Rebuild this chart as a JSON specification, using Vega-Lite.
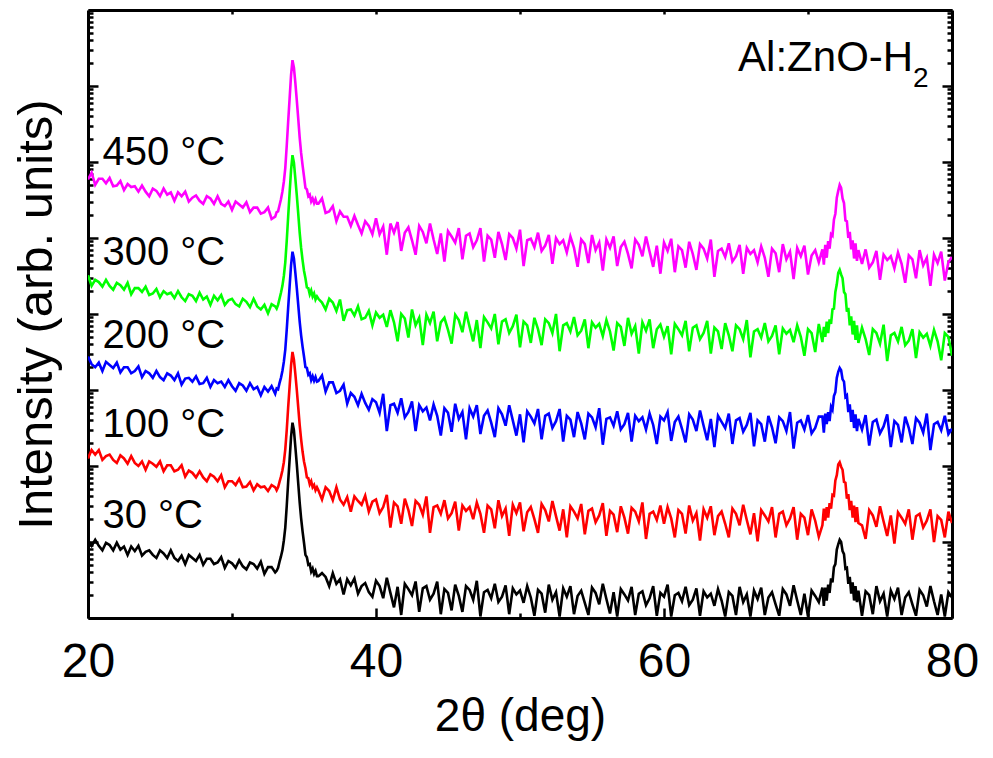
{
"$schema":"https://vega.github.io/schema/vega-lite/v6.json",
"width":864,"height":608,
"autosize":{"type":"none"},
"padding":{"left":88,"top":10,"right":41,"bottom":140},
"background":"white",
"config":{"view":{"stroke":null},"axis":{"grid":false,"domainColor":"black","domainWidth":3,"tickColor":"black","tickWidth":2.5,"labelColor":"black","titleColor":"black","labelFont":"Liberation Sans","titleFont":"Liberation Sans","titleFontWeight":"normal"},"text":{"font":"Liberation Sans","color":"black"}},
"resolve":{"axis":{"x":"independent","y":"independent"}},
"layer":[
{"data":{"values":[
{"x":20,"t30":1.02,"t100":2.10,"t200":3.44,"t300":4.51,"t450":5.77},
{"x":20.25,"t30":0.95,"t100":2.21,"t200":3.34,"t300":4.37,"t450":5.86},
{"x":20.5,"t30":1.03,"t100":2.15,"t200":3.30,"t300":4.45,"t450":5.70},
{"x":20.75,"t30":0.95,"t100":2.21,"t200":3.36,"t300":4.42,"t450":5.78},
{"x":21,"t30":0.89,"t100":2.08,"t200":3.25,"t300":4.36,"t450":5.78},
{"x":21.25,"t30":0.99,"t100":2.13,"t200":3.37,"t300":4.45,"t450":5.72},
{"x":21.5,"t30":0.96,"t100":2.15,"t200":3.33,"t300":4.37,"t450":5.79},
{"x":21.75,"t30":0.89,"t100":2.08,"t200":3.29,"t300":4.32,"t450":5.68},
{"x":22,"t30":0.99,"t100":2.04,"t200":3.36,"t300":4.41,"t450":5.69},
{"x":22.25,"t30":0.90,"t100":2.14,"t200":3.23,"t300":4.38,"t450":5.75},
{"x":22.5,"t30":0.94,"t100":2.10,"t200":3.30,"t300":4.32,"t450":5.63},
{"x":22.75,"t30":0.83,"t100":2.03,"t200":3.30,"t300":4.41,"t450":5.71},
{"x":23,"t30":0.94,"t100":2.13,"t200":3.22,"t300":4.26,"t450":5.67},
{"x":23.25,"t30":0.88,"t100":2.04,"t200":3.25,"t300":4.34,"t450":5.68},
{"x":23.5,"t30":0.95,"t100":2.00,"t200":3.31,"t300":4.34,"t450":5.61},
{"x":23.75,"t30":0.82,"t100":2.06,"t200":3.17,"t300":4.29,"t450":5.69},
{"x":24,"t30":0.87,"t100":1.95,"t200":3.25,"t300":4.36,"t450":5.61},
{"x":24.25,"t30":0.89,"t100":2.06,"t200":3.22,"t300":4.25,"t450":5.55},
{"x":24.5,"t30":0.83,"t100":2.03,"t200":3.16,"t300":4.27,"t450":5.65},
{"x":24.75,"t30":0.79,"t100":1.99,"t200":3.25,"t300":4.33,"t450":5.62},
{"x":25,"t30":0.89,"t100":2.06,"t200":3.17,"t300":4.22,"t450":5.55},
{"x":25.25,"t30":0.85,"t100":1.93,"t200":3.13,"t300":4.30,"t450":5.65},
{"x":25.5,"t30":0.79,"t100":2.01,"t200":3.22,"t300":4.26,"t450":5.57},
{"x":25.75,"t30":0.89,"t100":2.01,"t200":3.19,"t300":4.28,"t450":5.60},
{"x":26,"t30":0.79,"t100":1.93,"t200":3.13,"t300":4.21,"t450":5.49},
{"x":26.25,"t30":0.75,"t100":1.95,"t200":3.22,"t300":4.30,"t450":5.60},
{"x":26.5,"t30":0.82,"t100":2.01,"t200":3.07,"t300":4.22,"t450":5.55},
{"x":26.75,"t30":0.71,"t100":1.86,"t200":3.15,"t300":4.17,"t450":5.61},
{"x":27,"t30":0.83,"t100":1.94,"t200":3.16,"t300":4.26,"t450":5.48},
{"x":27.25,"t30":0.79,"t100":1.91,"t200":3.11,"t300":4.24,"t450":5.53},
{"x":27.5,"t30":0.75,"t100":1.85,"t200":3.18,"t300":4.17,"t450":5.56},
{"x":27.75,"t30":0.83,"t100":1.93,"t200":3.08,"t300":4.28,"t450":5.49},
{"x":28,"t30":0.70,"t100":1.85,"t200":3.09,"t300":4.19,"t450":5.45},
{"x":28.25,"t30":0.78,"t100":1.80,"t200":3.16,"t300":4.23,"t450":5.55},
{"x":28.5,"t30":0.78,"t100":1.89,"t200":3.04,"t300":4.12,"t450":5.52},
{"x":28.75,"t30":0.71,"t100":1.86,"t200":3.13,"t300":4.24,"t450":5.45},
{"x":29,"t30":0.73,"t100":1.80,"t200":3.09,"t300":4.18,"t450":5.55},
{"x":29.25,"t30":0.80,"t100":1.88,"t200":3.11,"t300":4.25,"t450":5.45},
{"x":29.5,"t30":0.66,"t100":1.72,"t200":3.04,"t300":4.12,"t450":5.42},
{"x":29.75,"t30":0.75,"t100":1.80,"t200":3.13,"t300":4.18,"t450":5.48},
{"x":30,"t30":0.72,"t100":1.80,"t200":3.05,"t300":4.20,"t450":5.37},
{"x":30.25,"t30":0.66,"t100":1.75,"t200":2.99,"t300":4.13,"t450":5.48},
{"x":30.5,"t30":0.76,"t100":1.83,"t200":3.09,"t300":4.10,"t450":5.44},
{"x":30.75,"t30":0.68,"t100":1.72,"t200":3.06,"t300":4.20,"t450":5.40},
{"x":31,"t30":0.64,"t100":1.73,"t200":2.99,"t300":4.16,"t450":5.47},
{"x":31.25,"t30":0.73,"t100":1.79,"t200":3.09,"t300":4.09,"t450":5.34},
{"x":31.5,"t30":0.71,"t100":1.68,"t200":3.01,"t300":4.20,"t450":5.40},
{"x":31.75,"t30":0.65,"t100":1.76,"t200":3.04,"t300":4.10,"t450":5.40},
{"x":32,"t30":0.74,"t100":1.72,"t200":2.93,"t300":4.06,"t450":5.32},
{"x":32.25,"t30":0.58,"t100":1.73,"t200":3.04,"t300":4.12,"t450":5.34},
{"x":32.5,"t30":0.67,"t100":1.67,"t200":2.98,"t300":4.01,"t450":5.40},
{"x":32.75,"t30":0.67,"t100":1.75,"t200":3.05,"t300":4.13,"t450":5.25},
{"x":33.0,"t30":0.60,"t100":1.72,"t200":2.95,"t300":4.10,"t450":5.28},
{"x":33.1,"t30":0.62,"t100":1.68,"t200":3.02,"t300":4.07,"t450":5.34},
{"x":33.2,"t30":0.66,"t100":1.72,"t200":3.01,"t300":4.12,"t450":5.35},
{"x":33.3,"t30":0.74,"t100":1.79,"t200":3.09,"t300":4.20,"t450":5.43},
{"x":33.4,"t30":0.81,"t100":1.86,"t200":3.16,"t300":4.28,"t450":5.51},
{"x":33.5,"t30":0.89,"t100":1.94,"t200":3.25,"t300":4.37,"t450":5.61},
{"x":33.6,"t30":1.02,"t100":2.05,"t200":3.37,"t300":4.50,"t450":5.74},
{"x":33.7,"t30":1.19,"t100":2.22,"t200":3.53,"t300":4.68,"t450":5.92},
{"x":33.8,"t30":1.47,"t100":2.47,"t200":3.79,"t300":4.96,"t450":6.21},
{"x":33.9,"t30":1.79,"t100":2.77,"t200":4.08,"t300":5.28,"t450":6.53},
{"x":34.0,"t30":2.08,"t100":3.04,"t200":4.36,"t300":5.59,"t450":6.83},
{"x":34.1,"t30":2.38,"t100":3.32,"t200":4.64,"t300":5.89,"t450":7.14},
{"x":34.2,"t30":2.57,"t100":3.50,"t200":4.82,"t300":6.09,"t450":7.34},
{"x":34.3,"t30":2.47,"t100":3.40,"t200":4.73,"t300":5.99,"t450":7.24},
{"x":34.4,"t30":2.25,"t100":3.21,"t200":4.54,"t300":5.78,"t450":7.04},
{"x":34.5,"t30":2.02,"t100":3.00,"t200":4.34,"t300":5.56,"t450":6.81},
{"x":34.6,"t30":1.77,"t100":2.77,"t200":4.12,"t300":5.32,"t450":6.57},
{"x":34.7,"t30":1.52,"t100":2.54,"t200":3.90,"t300":5.07,"t450":6.32},
{"x":34.8,"t30":1.31,"t100":2.35,"t200":3.72,"t300":4.87,"t450":6.12},
{"x":34.9,"t30":1.14,"t100":2.19,"t200":3.57,"t300":4.71,"t450":5.96},
{"x":35.0,"t30":0.99,"t100":2.06,"t200":3.44,"t300":4.57,"t450":5.81},
{"x":35.1,"t30":0.83,"t100":1.97,"t200":3.30,"t300":4.47,"t450":5.66},
{"x":35.2,"t30":0.80,"t100":1.85,"t200":3.29,"t300":4.35,"t450":5.64},
{"x":35.3,"t30":0.70,"t100":1.84,"t200":3.20,"t300":4.34,"t450":5.55},
{"x":35.4,"t30":0.71,"t100":1.76,"t200":3.22,"t300":4.26,"t450":5.57},
{"x":35.5,"t30":0.61,"t100":1.80,"t200":3.13,"t300":4.31,"t450":5.48},
{"x":35.6,"t30":0.65,"t100":1.72,"t200":3.18,"t300":4.23,"t450":5.52},
{"x":35.7,"t30":0.58,"t100":1.75,"t200":3.12,"t300":4.27,"t450":5.46},
{"x":35.8,"t30":0.62,"t100":1.68,"t200":3.17,"t300":4.19,"t450":5.51},
{"x":35.9,"t30":0.55,"t100":1.72,"t200":3.11,"t300":4.23,"t450":5.45},
{"x":36.0,"t30":0.55,"t100":1.68,"t200":3.12,"t300":4.20,"t450":5.45},
{"x":36.25,"t30":0.59,"t100":1.56,"t200":3.19,"t300":4.15,"t450":5.52},
{"x":36.5,"t30":0.54,"t100":1.72,"t200":2.98,"t300":4.06,"t450":5.33},
{"x":36.75,"t30":0.42,"t100":1.67,"t200":3.10,"t300":4.20,"t450":5.35},
{"x":37,"t30":0.59,"t100":1.55,"t200":3.10,"t300":4.15,"t450":5.42},
{"x":37.25,"t30":0.45,"t100":1.72,"t200":2.96,"t300":4.04,"t450":5.22},
{"x":37.5,"t30":0.51,"t100":1.56,"t200":2.99,"t300":4.19,"t450":5.35},
{"x":37.75,"t30":0.31,"t100":1.49,"t200":3.07,"t300":3.91,"t450":5.28},
{"x":38,"t30":0.51,"t100":1.59,"t200":2.82,"t300":4.05,"t450":5.28},
{"x":38.25,"t30":0.43,"t100":1.40,"t200":2.96,"t300":4.06,"t450":5.16},
{"x":38.5,"t30":0.52,"t100":1.60,"t200":2.91,"t300":3.98,"t450":5.29},
{"x":38.75,"t30":0.32,"t100":1.54,"t200":2.80,"t300":4.10,"t450":5.17},
{"x":39,"t30":0.42,"t100":1.49,"t200":2.95,"t300":3.93,"t450":5.06},
{"x":39.25,"t30":0.46,"t100":1.61,"t200":2.83,"t300":3.95,"t450":5.22},
{"x":39.5,"t30":0.34,"t100":1.40,"t200":2.74,"t300":4.04,"t450":5.16},
{"x":39.75,"t30":0.28,"t100":1.53,"t200":2.88,"t300":3.85,"t450":5.05},
{"x":40,"t30":0.49,"t100":1.56,"t200":2.84,"t300":4.02,"t450":5.26},
{"x":40.25,"t30":0.42,"t100":1.38,"t200":2.70,"t300":3.95,"t450":5.05},
{"x":40.5,"t30":0.26,"t100":1.46,"t200":2.95,"t300":3.99,"t450":5.15},
{"x":40.75,"t30":0.53,"t100":1.62,"t200":2.46,"t300":3.83,"t450":4.78},
{"x":41,"t30":0.33,"t100":1.19,"t200":2.80,"t300":4.05,"t450":5.19},
{"x":41.25,"t30":0.14,"t100":1.52,"t200":2.82,"t300":3.89,"t450":5.07},
{"x":41.5,"t30":0.41,"t100":1.47,"t200":2.70,"t300":3.64,"t450":5.21},
{"x":41.75,"t30":0.04,"t100":1.24,"t200":2.89,"t300":4.00,"t450":4.83},
{"x":42,"t30":0.45,"t100":1.57,"t200":2.64,"t300":3.94,"t450":5.07},
{"x":42.25,"t30":0.38,"t100":1.42,"t200":2.71,"t300":3.69,"t450":5.14},
{"x":42.5,"t30":0.30,"t100":1.21,"t200":2.85,"t300":4.06,"t450":4.97},
{"x":42.75,"t30":0.48,"t100":1.54,"t200":2.46,"t300":3.85,"t450":4.78},
{"x":43,"t30":0.08,"t100":1.49,"t200":2.80,"t300":3.95,"t450":5.16},
{"x":43.25,"t30":0.39,"t100":1.36,"t200":2.72,"t300":3.59,"t450":5.08},
{"x":43.5,"t30":0.42,"t100":1.60,"t200":2.77,"t300":3.99,"t450":4.93},
{"x":43.75,"t30":0.24,"t100":1.12,"t200":2.60,"t300":3.88,"t450":5.19},
{"x":44,"t30":0.32,"t100":1.46,"t200":2.81,"t300":4.03,"t450":4.98},
{"x":44.25,"t30":0.48,"t100":1.48,"t200":2.66,"t300":3.64,"t450":4.79},
{"x":44.5,"t30":0.05,"t100":1.37,"t200":2.40,"t300":3.89,"t450":5.06},
{"x":44.75,"t30":0.38,"t100":1.55,"t200":2.76,"t300":3.95,"t450":4.69},
{"x":45,"t30":0.33,"t100":1.31,"t200":2.70,"t300":3.79,"t450":5.09},
{"x":45.25,"t30":0.10,"t100":1.38,"t200":2.45,"t300":3.61,"t450":5.02},
{"x":45.5,"t30":0.44,"t100":1.53,"t200":2.82,"t300":3.99,"t450":4.94},
{"x":45.75,"t30":0.29,"t100":1.15,"t200":2.62,"t300":3.92,"t450":5.13},
{"x":46,"t30":0.08,"t100":1.48,"t200":2.71,"t300":3.76,"t450":4.72},
{"x":46.25,"t30":0.42,"t100":1.41,"t200":2.35,"t300":4.03,"t450":5.03},
{"x":46.5,"t30":0.37,"t100":1.46,"t200":2.76,"t300":3.83,"t450":5.06},
{"x":46.75,"t30":0.24,"t100":1.30,"t200":2.65,"t300":3.64,"t450":4.88},
{"x":47,"t30":0.49,"t100":1.52,"t200":2.80,"t300":3.92,"t450":4.97},
{"x":47.25,"t30":0.02,"t100":1.37,"t200":2.42,"t300":3.55,"t450":5.13},
{"x":47.5,"t30":0.34,"t100":1.12,"t200":2.66,"t300":3.96,"t450":4.69},
{"x":47.75,"t30":0.37,"t100":1.48,"t200":2.73,"t300":3.89,"t450":5.03},
{"x":48,"t30":0.26,"t100":1.43,"t200":2.57,"t300":3.81,"t450":4.98},
{"x":48.25,"t30":0.45,"t100":1.18,"t200":2.38,"t300":4.00,"t450":4.74},
{"x":48.5,"t30":0.21,"t100":1.55,"t200":2.76,"t300":3.60,"t450":5.08},
{"x":48.75,"t30":0.28,"t100":1.34,"t200":2.68,"t300":3.90,"t450":4.92},
{"x":49,"t30":0.43,"t100":1.44,"t200":2.53,"t300":3.93,"t450":4.71},
{"x":49.25,"t30":0.05,"t100":1.08,"t200":2.80,"t300":3.75,"t450":5.05},
{"x":49.5,"t30":0.39,"t100":1.49,"t200":2.60,"t300":3.84,"t450":5.00},
{"x":49.75,"t30":0.31,"t100":1.38,"t200":2.40,"t300":3.99,"t450":4.86},
{"x":50,"t30":0.36,"t100":1.52,"t200":2.68,"t300":3.56,"t450":5.11},
{"x":50.25,"t30":0.20,"t100":1.14,"t200":2.31,"t300":3.90,"t450":4.63},
{"x":50.5,"t30":0.42,"t100":1.39,"t200":2.72,"t300":3.85,"t450":4.97},
{"x":50.75,"t30":0.27,"t100":1.46,"t200":2.65,"t300":3.62,"t450":4.99},
{"x":51,"t30":0.03,"t100":1.30,"t200":2.56,"t300":3.95,"t450":4.88},
{"x":51.25,"t30":0.37,"t100":1.12,"t200":2.75,"t300":3.80,"t450":5.07},
{"x":51.5,"t30":0.32,"t100":1.50,"t200":2.35,"t300":3.59,"t450":4.83},
{"x":51.75,"t30":0.07,"t100":1.42,"t200":2.66,"t300":3.93,"t450":4.90},
{"x":52,"t30":0.44,"t100":1.27,"t200":2.69,"t300":3.88,"t450":5.04},
{"x":52.25,"t30":0.24,"t100":1.54,"t200":2.50,"t300":3.75,"t450":4.66},
{"x":52.5,"t30":0.34,"t100":1.34,"t200":2.59,"t300":4.00,"t450":5.00},
{"x":52.75,"t30":0.02,"t100":1.15,"t200":2.75,"t300":3.51,"t450":4.92},
{"x":53,"t30":0.39,"t100":1.43,"t200":2.32,"t300":3.85,"t450":4.97},
{"x":53.25,"t30":0.28,"t100":1.06,"t200":2.66,"t300":3.88,"t450":4.81},
{"x":53.5,"t30":0.42,"t100":1.47,"t200":2.61,"t300":3.77,"t450":5.02},
{"x":53.75,"t30":0.05,"t100":1.40,"t200":2.38,"t300":3.96,"t450":4.87},
{"x":54,"t30":0.29,"t100":1.31,"t200":2.71,"t300":3.72,"t450":4.62},
{"x":54.25,"t30":0.36,"t100":1.50,"t200":2.56,"t300":3.78,"t450":4.98},
{"x":54.5,"t30":0.20,"t100":1.10,"t200":2.35,"t300":3.93,"t450":4.92},
{"x":54.75,"t30":0.04,"t100":1.41,"t200":2.69,"t300":3.55,"t450":4.67},
{"x":55,"t30":0.40,"t100":1.44,"t200":2.64,"t300":3.89,"t450":5.04},
{"x":55.25,"t30":0.33,"t100":1.26,"t200":2.51,"t300":3.82,"t450":4.84},
{"x":55.5,"t30":0.18,"t100":1.35,"t200":2.76,"t300":3.87,"t450":4.94},
{"x":55.75,"t30":0.45,"t100":1.51,"t200":2.28,"t300":3.71,"t450":4.57},
{"x":56,"t30":0.25,"t100":1.08,"t200":2.62,"t300":3.92,"t450":4.98},
{"x":56.25,"t30":0.06,"t100":1.41,"t200":2.64,"t300":3.77,"t450":4.87},
{"x":56.5,"t30":0.34,"t100":1.36,"t200":2.53,"t300":3.52,"t450":5.02},
{"x":56.75,"t30":0.02,"t100":1.13,"t200":2.72,"t300":3.88,"t450":4.63},
{"x":57,"t30":0.38,"t100":1.47,"t200":2.48,"t300":3.83,"t450":4.88},
{"x":57.25,"t30":0.31,"t100":1.32,"t200":2.55,"t300":3.58,"t450":4.95},
{"x":57.5,"t30":0.23,"t100":1.11,"t200":2.70,"t300":3.95,"t450":4.79},
{"x":57.75,"t30":0.41,"t100":1.45,"t200":2.32,"t300":3.74,"t450":4.60},
{"x":58,"t30":0.04,"t100":1.40,"t200":2.66,"t300":3.84,"t450":4.98},
{"x":58.25,"t30":0.32,"t100":1.27,"t200":2.59,"t300":3.48,"t450":4.91},
{"x":58.5,"t30":0.35,"t100":1.52,"t200":2.64,"t300":3.89,"t450":4.76},
{"x":58.75,"t30":0.17,"t100":1.04,"t200":2.48,"t300":3.78,"t450":5.02},
{"x":59,"t30":0.26,"t100":1.37,"t200":2.69,"t300":3.93,"t450":4.82},
{"x":59.25,"t30":0.42,"t100":1.40,"t200":2.54,"t300":3.55,"t450":4.62},
{"x":59.5,"t30":0.03,"t100":1.29,"t200":2.29,"t300":3.80,"t450":4.90},
{"x":59.75,"t30":0.33,"t100":1.48,"t200":2.65,"t300":3.86,"t450":4.53},
{"x":60,"t30":0.28,"t100":1.24,"t200":2.60,"t300":3.70,"t450":4.94},
{"x":60.25,"t30":0.44,"t100":1.46,"t200":2.71,"t300":3.84,"t450":4.83},
{"x":60.5,"t30":0.02,"t100":1.31,"t200":2.33,"t300":3.47,"t450":4.99},
{"x":60.75,"t30":0.30,"t100":1.06,"t200":2.58,"t300":3.87,"t450":4.55},
{"x":61,"t30":0.33,"t100":1.42,"t200":2.65,"t300":3.80,"t450":4.89},
{"x":61.25,"t30":0.22,"t100":1.37,"t200":2.49,"t300":3.72,"t450":4.84},
{"x":61.5,"t30":0.41,"t100":1.11,"t200":2.31,"t300":3.91,"t450":4.61},
{"x":61.75,"t30":0.17,"t100":1.48,"t200":2.68,"t300":3.51,"t450":4.95},
{"x":62,"t30":0.24,"t100":1.28,"t200":2.61,"t300":3.82,"t450":4.79},
{"x":62.25,"t30":0.39,"t100":1.38,"t200":2.46,"t300":3.85,"t450":4.58},
{"x":62.5,"t30":0.03,"t100":1.02,"t200":2.73,"t300":3.67,"t450":4.92},
{"x":62.75,"t30":0.35,"t100":1.43,"t200":2.53,"t300":3.75,"t450":4.86},
{"x":63,"t30":0.27,"t100":1.32,"t200":2.34,"t300":3.91,"t450":4.73},
{"x":63.25,"t30":0.32,"t100":1.47,"t200":2.62,"t300":3.48,"t450":4.98},
{"x":63.5,"t30":0.16,"t100":1.09,"t200":2.25,"t300":3.82,"t450":4.49},
{"x":63.75,"t30":0.38,"t100":1.34,"t200":2.66,"t300":3.77,"t450":4.83},
{"x":64,"t30":0.23,"t100":1.40,"t200":2.58,"t300":3.54,"t450":4.86},
{"x":64.25,"t30":0.02,"t100":1.24,"t200":2.50,"t300":3.88,"t450":4.75},
{"x":64.5,"t30":0.34,"t100":1.06,"t200":2.69,"t300":3.72,"t450":4.93},
{"x":64.75,"t30":0.29,"t100":1.44,"t200":2.29,"t300":3.51,"t450":4.69},
{"x":65,"t30":0.04,"t100":1.37,"t200":2.60,"t300":3.85,"t450":4.76},
{"x":65.25,"t30":0.41,"t100":1.22,"t200":2.63,"t300":3.80,"t450":4.91},
{"x":65.5,"t30":0.21,"t100":1.49,"t200":2.45,"t300":3.67,"t450":4.53},
{"x":65.75,"t30":0.31,"t100":1.29,"t200":2.54,"t300":3.92,"t450":4.87},
{"x":66,"t30":0.02,"t100":1.10,"t200":2.70,"t300":3.43,"t450":4.79},
{"x":66.25,"t30":0.36,"t100":1.38,"t200":2.26,"t300":3.77,"t450":4.84},
{"x":66.5,"t30":0.25,"t100":1.01,"t200":2.60,"t300":3.80,"t450":4.68},
{"x":66.75,"t30":0.40,"t100":1.42,"t200":2.55,"t300":3.69,"t450":4.89},
{"x":67,"t30":0.04,"t100":1.35,"t200":2.32,"t300":3.88,"t450":4.74},
{"x":67.25,"t30":0.27,"t100":1.27,"t200":2.66,"t300":3.64,"t450":4.49},
{"x":67.5,"t30":0.34,"t100":1.46,"t200":2.51,"t300":3.71,"t450":4.86},
{"x":67.75,"t30":0.18,"t100":1.06,"t200":2.30,"t300":3.85,"t450":4.80},
{"x":68,"t30":0.03,"t100":1.37,"t200":2.64,"t300":3.47,"t450":4.55},
{"x":68.25,"t30":0.38,"t100":1.40,"t200":2.59,"t300":3.81,"t450":4.92},
{"x":68.5,"t30":0.31,"t100":1.22,"t200":2.46,"t300":3.74,"t450":4.72},
{"x":68.75,"t30":0.16,"t100":1.31,"t200":2.71,"t300":3.79,"t450":4.82},
{"x":69,"t30":0.43,"t100":1.46,"t200":2.23,"t300":3.63,"t450":4.46},
{"x":69.25,"t30":0.23,"t100":1.03,"t200":2.57,"t300":3.85,"t450":4.87},
{"x":69.5,"t30":0.04,"t100":1.37,"t200":2.60,"t300":3.70,"t450":4.76},
{"x":69.75,"t30":0.32,"t100":1.32,"t200":2.48,"t300":3.45,"t450":4.90},
{"x":70,"t30":0.02,"t100":1.09,"t200":2.67,"t300":3.80,"t450":4.52},
{"x":70.25,"t30":0.36,"t100":1.43,"t200":2.43,"t300":3.75,"t450":4.77},
{"x":70.5,"t30":0.29,"t100":1.28,"t200":2.50,"t300":3.50,"t450":4.84},
{"x":70.75,"t30":0.21,"t100":1.07,"t200":2.65,"t300":3.87,"t450":4.68},
{"x":71.0,"t30":0.40,"t100":1.22,"t200":2.65,"t300":3.63,"t450":4.85},
{"x":71.1,"t30":0.16,"t100":1.44,"t200":2.44,"t300":3.83,"t450":4.65},
{"x":71.2,"t30":0.40,"t100":1.28,"t200":2.69,"t300":3.70,"t450":4.91},
{"x":71.3,"t30":0.23,"t100":1.46,"t200":2.55,"t300":3.90,"t450":4.74},
{"x":71.4,"t30":0.44,"t100":1.32,"t200":2.71,"t300":3.75,"t450":4.96},
{"x":71.5,"t30":0.33,"t100":1.51,"t200":2.59,"t300":3.93,"t450":4.86},
{"x":71.6,"t30":0.52,"t100":1.44,"t200":2.78,"t300":3.87,"t450":5.05},
{"x":71.7,"t30":0.47,"t100":1.62,"t200":2.74,"t300":4.06,"t450":5.03},
{"x":71.8,"t30":0.67,"t100":1.61,"t200":2.92,"t300":4.07,"t450":5.24},
{"x":71.9,"t30":0.71,"t100":1.81,"t200":2.97,"t300":4.29,"t450":5.32},
{"x":72.0,"t30":0.90,"t100":1.88,"t200":3.16,"t300":4.39,"t450":5.53},
{"x":72.1,"t30":0.97,"t100":2.02,"t200":3.24,"t300":4.54,"t450":5.62},
{"x":72.2,"t30":1.03,"t100":2.05,"t200":3.29,"t300":4.58,"t450":5.70},
{"x":72.3,"t30":1.00,"t100":1.99,"t200":3.26,"t300":4.52,"t450":5.66},
{"x":72.4,"t30":0.88,"t100":1.95,"t200":3.14,"t300":4.47,"t450":5.52},
{"x":72.5,"t30":0.84,"t100":1.79,"t200":3.11,"t300":4.29,"t450":5.46},
{"x":72.6,"t30":0.65,"t100":1.78,"t200":2.91,"t300":4.26,"t450":5.23},
{"x":72.7,"t30":0.66,"t100":1.57,"t200":2.93,"t300":4.03,"t450":5.22},
{"x":72.8,"t30":0.45,"t100":1.63,"t200":2.71,"t300":4.08,"t450":5.00},
{"x":72.9,"t30":0.54,"t100":1.42,"t200":2.81,"t300":3.85,"t450":5.08},
{"x":73.0,"t30":0.32,"t100":1.54,"t200":2.58,"t300":3.97,"t450":4.85},
{"x":73.1,"t30":0.47,"t100":1.32,"t200":2.74,"t300":3.73,"t450":4.97},
{"x":73.2,"t30":0.23,"t100":1.48,"t200":2.50,"t300":3.91,"t450":4.73},
{"x":73.3,"t30":0.42,"t100":1.26,"t200":2.68,"t300":3.66,"t450":4.93},
{"x":73.4,"t30":0.21,"t100":1.46,"t200":2.46,"t300":3.85,"t450":4.70},
{"x":73.5,"t30":0.36,"t100":1.25,"t200":2.62,"t300":3.62,"t450":4.84},
{"x":73.75,"t30":0.03,"t100":1.22,"t200":2.48,"t300":3.82,"t450":4.66},
{"x":74,"t30":0.35,"t100":1.04,"t200":2.67,"t300":3.67,"t450":4.85},
{"x":74.25,"t30":0.30,"t100":1.42,"t200":2.27,"t300":3.46,"t450":4.61},
{"x":74.5,"t30":0.05,"t100":1.35,"t200":2.58,"t300":3.80,"t450":4.68},
{"x":74.75,"t30":0.42,"t100":1.20,"t200":2.61,"t300":3.75,"t450":4.83},
{"x":75,"t30":0.22,"t100":1.47,"t200":2.43,"t300":3.61,"t450":4.45},
{"x":75.25,"t30":0.32,"t100":1.27,"t200":2.52,"t300":3.86,"t450":4.78},
{"x":75.5,"t30":0.02,"t100":1.08,"t200":2.68,"t300":3.38,"t450":4.71},
{"x":75.75,"t30":0.36,"t100":1.35,"t200":2.25,"t300":3.72,"t450":4.76},
{"x":76,"t30":0.25,"t100":0.98,"t200":2.59,"t300":3.75,"t450":4.60},
{"x":76.25,"t30":0.40,"t100":1.39,"t200":2.54,"t300":3.64,"t450":4.81},
{"x":76.5,"t30":0.04,"t100":1.32,"t200":2.31,"t300":3.83,"t450":4.66},
{"x":76.75,"t30":0.27,"t100":1.24,"t200":2.65,"t300":3.59,"t450":4.41},
{"x":77,"t30":0.34,"t100":1.43,"t200":2.50,"t300":3.65,"t450":4.77},
{"x":77.25,"t30":0.18,"t100":1.03,"t200":2.29,"t300":3.80,"t450":4.72},
{"x":77.5,"t30":0.03,"t100":1.34,"t200":2.63,"t300":3.42,"t450":4.47},
{"x":77.75,"t30":0.37,"t100":1.37,"t200":2.57,"t300":3.76,"t450":4.84},
{"x":78,"t30":0.30,"t100":1.19,"t200":2.44,"t300":3.69,"t450":4.64},
{"x":78.25,"t30":0.15,"t100":1.28,"t200":2.69,"t300":3.74,"t450":4.74},
{"x":78.5,"t30":0.42,"t100":1.43,"t200":2.21,"t300":3.58,"t450":4.37},
{"x":78.75,"t30":0.22,"t100":1.00,"t200":2.55,"t300":3.79,"t450":4.78},
{"x":79,"t30":0.04,"t100":1.34,"t200":2.58,"t300":3.64,"t450":4.67},
{"x":79.25,"t30":0.31,"t100":1.29,"t200":2.47,"t300":3.39,"t450":4.82},
{"x":79.5,"t30":0.02,"t100":1.06,"t200":2.66,"t300":3.75,"t450":4.44},
{"x":79.75,"t30":0.34,"t100":1.40,"t200":2.42,"t300":3.70,"t450":4.68},
{"x":80,"t30":0.27,"t100":1.25,"t200":2.49,"t300":3.45,"t450":4.75}
]},
"transform":[{"fold":["t30","t100","t200","t300","t450"],"as":["series","I"]}],
"mark":{"type":"line","strokeWidth":2.6,"clip":true,"strokeJoin":"miter"},
"encoding":{
"x":{"field":"x","type":"quantitative","scale":{"domain":[20,80],"nice":false,"zero":false},
"axis":{"orient":"bottom","values":[20,40,60,80],"tickSize":-10,"tickWidth":2.5,"domainWidth":3,"labelFontSize":48,"labelPadding":30,"labelFlush":false,"title":"2θ (deg)","titleFontSize":46,"titlePadding":8}},
"y":{"field":"I","type":"quantitative","scale":{"domain":[0,8],"nice":false,"zero":false},
"axis":{"orient":"left","values":[0.301,0.477,0.602,0.699,0.778,0.845,0.903,0.954,1.301,1.477,1.602,1.699,1.778,1.845,1.903,1.954,2.301,2.477,2.602,2.699,2.778,2.845,2.903,2.954,3.301,3.477,3.602,3.699,3.778,3.845,3.903,3.954,4.301,4.477,4.602,4.699,4.778,4.845,4.903,4.954,5.301,5.477,5.602,5.699,5.778,5.845,5.903,5.954,6.301,6.477,6.602,6.699,6.778,6.845,6.903,6.954,7.301,7.477,7.602,7.699,7.778,7.845,7.903,7.954],"tickSize":-5,"tickWidth":2.5,"domainWidth":3,"labels":false,"title":"Intensity (arb. units)","titleFontSize":49,"titlePadding":25}},
"color":{"field":"series","type":"nominal","scale":{"domain":["t30","t100","t200","t300","t450"],"range":["#000000","#ff0000","#0000ff","#00ff00","#ff00ff"]},"legend":null},
"order":{"field":"x","type":"quantitative"}
}},
{"data":{"values":[{"x":20,"y":0}]},
"mark":{"type":"point","opacity":0},
"encoding":{
"x":{"field":"x","type":"quantitative","axis":{"orient":"bottom","values":[30,50,70],"tickSize":-5,"tickWidth":2.5,"labels":false,"domain":false,"title":null}},
"y":{"field":"y","type":"quantitative","axis":{"orient":"left","values":[0,1,2,3,4,5,6,7,8],"tickSize":-10,"tickWidth":2.5,"labels":false,"domain":false,"title":null}}
}},
{"data":{"values":[{"x":20,"y":0}]},
"mark":{"type":"point","opacity":0},
"encoding":{
"x":{"field":"x","type":"quantitative","axis":{"orient":"top","values":[30,40,50,60,70],"tickSize":-4,"tickWidth":2.5,"domainWidth":3,"labels":false,"title":null}},
"y":{"field":"y","type":"quantitative","axis":{"orient":"right","values":[0,1,2,3,4,5,6,7,8],"tickSize":-10,"tickWidth":2.5,"domainWidth":3,"labels":false,"title":null}}
}},
{"data":{"values":[{"x":20,"y":0}]},
"mark":{"type":"point","opacity":0},
"encoding":{
"x":{"field":"x","type":"quantitative","axis":null},
"y":{"field":"y","type":"quantitative","axis":{"orient":"right","values":[0.301,0.477,0.602,0.699,0.778,0.845,0.903,0.954,1.301,1.477,1.602,1.699,1.778,1.845,1.903,1.954,2.301,2.477,2.602,2.699,2.778,2.845,2.903,2.954,3.301,3.477,3.602,3.699,3.778,3.845,3.903,3.954,4.301,4.477,4.602,4.699,4.778,4.845,4.903,4.954,5.301,5.477,5.602,5.699,5.778,5.845,5.903,5.954,6.301,6.477,6.602,6.699,6.778,6.845,6.903,6.954,7.301,7.477,7.602,7.699,7.778,7.845,7.903,7.954],"tickSize":-5,"tickWidth":2.5,"labels":false,"domain":false,"title":null}}
}},
{"data":{"values":[{"x":21,"y":5.96,"label":"450 °C"},{"x":21,"y":4.64,"label":"300 °C"},{"x":21,"y":3.55,"label":"200 °C"},{"x":21,"y":2.38,"label":"100 °C"},{"x":21,"y":1.18,"label":"30 °C"}]},
"mark":{"type":"text","align":"left","baseline":"alphabetic","fontSize":40},
"encoding":{"x":{"field":"x","type":"quantitative","axis":null},"y":{"field":"y","type":"quantitative","axis":null},"text":{"field":"label"}}},
{"data":{"values":[{"x":77.3,"y":7.2,"label":"Al:ZnO-H"}]},
"mark":{"type":"text","align":"right","baseline":"alphabetic","fontSize":42},
"encoding":{"x":{"field":"x","type":"quantitative","axis":null},"y":{"field":"y","type":"quantitative","axis":null},"text":{"field":"label"}}},
{"data":{"values":[{"x":77.3,"y":6.99,"label":"2"}]},
"mark":{"type":"text","align":"left","baseline":"alphabetic","fontSize":28},
"encoding":{"x":{"field":"x","type":"quantitative","axis":null},"y":{"field":"y","type":"quantitative","axis":null},"text":{"field":"label"}}}
]
}
